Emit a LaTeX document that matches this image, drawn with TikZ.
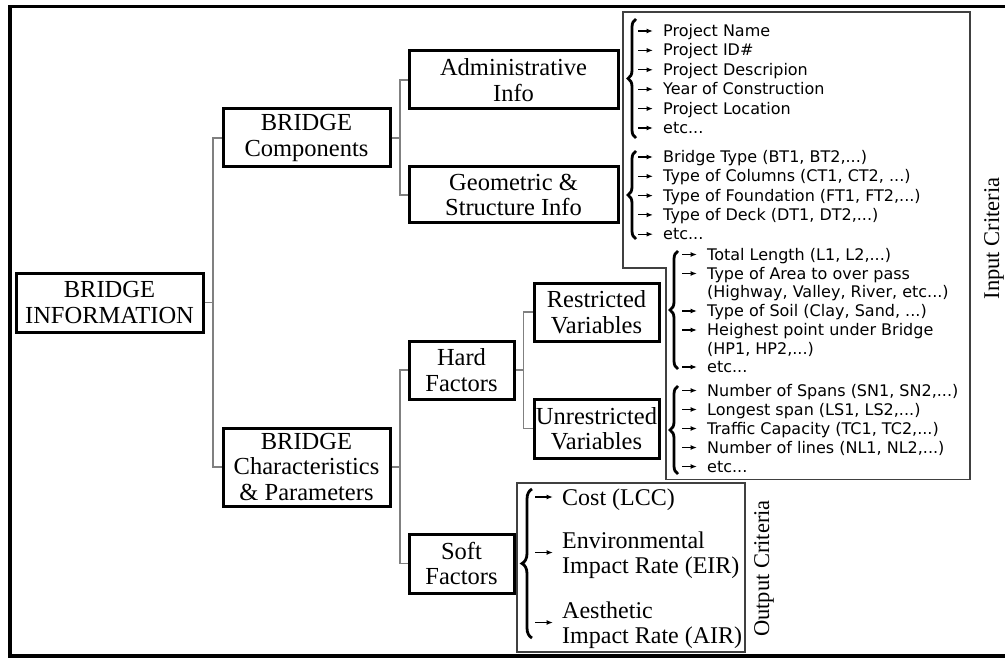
\documentclass[tikz,border=0pt]{standalone}
\usepackage{fontspec}
\setmainfont{Liberation Serif}
\newfontfamily\listfont{DejaVu Sans}
\usetikzlibrary{decorations.pathreplacing,arrows.meta}
\newcommand\itemarr[1]{\draw[arr] ([xshift=-25pt,yshift=5.5pt]#1.base west) -- ([xshift=-10pt,yshift=5.5pt]#1.base west);}
\begin{document}
\begin{tikzpicture}[x=1pt,y=-1pt,
  box/.style={draw=black, line width=3pt, inner sep=0pt, align=center, font=\fontsize{24.5}{25.5}\selectfont},
  conn/.style={draw=black!50, line width=1.3pt},
  frame/.style={draw=black!75, line width=1.4pt},
  itm/.style={anchor=base west, inner sep=0pt, font=\listfont\fontsize{16}{19}\selectfont},
  arr/.style={-{Latex[length=6.5pt,width=5pt]}, line width=1.2pt},
  brc/.style={decorate, decoration={brace, amplitude=8pt}, line width=2.8pt},
  crit/.style={rotate=90, inner sep=0pt, font=\fontsize{22.5}{24}\selectfont},
  outt/.style={anchor=base west, inner sep=0pt, font=\fontsize{24}{25}\selectfont}
]
\useasboundingbox (0,0) rectangle (1005,658);
% outer frame
\draw[line width=3.2pt] (1012,6.7) -- (10,6.7) -- (10,656) -- (1012,656);

% boxes
\node[box, minimum width=187pt, minimum height=59pt] (info) at (109.5,302.5) {BRIDGE\\INFORMATION};
\node[box, minimum width=167pt, minimum height=58pt] (comp) at (306.5,138) {BRIDGE\\Components};
\node[box, minimum width=167pt, minimum height=78pt] (char) at (306.5,467) {BRIDGE\\Characteristics\\\& Parameters};
\node[box, minimum width=209pt, minimum height=58pt] (admin) at (513.5,80) {Administrative\\Info};
\node[box, minimum width=209pt, minimum height=56pt] (geo) at (513.5,195) {Geometric \&\\Structure Info};
\node[box, minimum width=105pt, minimum height=58pt] (hard) at (461.5,370) {Hard\\Factors};
\node[box, minimum width=105pt, minimum height=59pt] (soft) at (461.5,563.5) {Soft\\Factors};
\node[box, minimum width=125pt, minimum height=58pt] (restr) at (596.5,312) {Restricted\\Variables};
\node[box, minimum width=125pt, minimum height=59pt] (unres) at (596.5,428.5) {Unrestricted\\Variables};

% connectors
\coordinate (jA) at (213,302.5);
\coordinate (jB) at (400,138);
\coordinate (jC) at (400,467);
\coordinate (jD) at (523.5,370);
\draw[conn] (info.east) -- (jA);
\draw[conn] (comp.west) -| (jA);
\draw[conn] (char.west) -| (jA);
\draw[conn] (comp.east) -- (jB);
\draw[conn] (admin.west) -| (jB);
\draw[conn] (geo.west) -| (jB);
\draw[conn] (char.east) -- (jC);
\draw[conn] (hard.west) -| (jC);
\draw[conn] (soft.west) -| (jC);
\draw[conn] (hard.east) -- (jD);
\draw[conn] (restr.west) -| (jD);
\draw[conn] (unres.west) -| (jD);

% input box outline
\draw[frame] (623,12) -- (970,12) -- (970,479.5) -- (666,479.5) -- (666,268) -- (623,268) -- cycle;
% output box outline
\draw[frame] (517,483) rectangle (745,652);

% block 1
\node[itm] (a1) at (663,36.5) {Project Name};
\node[itm] (a2) at (663,55.9) {Project ID\#};
\node[itm] (a3) at (663,75.3) {Project Descripion};
\node[itm] (a4) at (663,94.7) {Year of Construction};
\node[itm] (a5) at (663,114.1) {Project Location};
\node[itm] (a6) at (663,133.5) {etc...};
\foreach \n in {a1,a2,a3,a4,a5,a6} {\itemarr{\n}}
\draw[brc] (636,138) -- (636,19);

% block 2
\node[itm] (b1) at (663,162.5) {Bridge Type (BT1, BT2,...)};
\node[itm] (b2) at (663,181.8) {Type of Columns (CT1, CT2, ...)};
\node[itm] (b3) at (663,201.1) {Type of Foundation (FT1, FT2,...)};
\node[itm] (b4) at (663,220.4) {Type of Deck (DT1, DT2,...)};
\node[itm] (b5) at (663,239.7) {etc...};
\foreach \n in {b1,b2,b3,b4,b5} {\itemarr{\n}}
\draw[brc] (636,239) -- (636,151);

% block 3
\node[itm] (c1) at (707,260) {Total Length (L1, L2,...)};
\node[itm] (c2) at (707,279) {Type of Area to over pass};
\node[itm] (c3) at (707,297.5) {(Highway, Valley, River, etc...)};
\node[itm] (c4) at (707,316.5) {Type of Soil (Clay, Sand, ...)};
\node[itm] (c5) at (707,335.5) {Heighest point under Bridge};
\node[itm] (c6) at (707,354) {(HP1, HP2,...)};
\node[itm] (c7) at (707,372.5) {etc...};
\foreach \n in {c1,c2,c4,c5,c7} {\itemarr{\n}}
\draw[brc] (678,369) -- (678,251);

% block 4
\node[itm] (d1) at (707,396) {Number of Spans (SN1, SN2,...)};
\node[itm] (d2) at (707,415) {Longest span (LS1, LS2,...)};
\node[itm] (d3) at (707,434) {Traffic Capacity (TC1, TC2,...)};
\node[itm] (d4) at (707,453) {Number of lines (NL1, NL2,...)};
\node[itm] (d5) at (707,472) {etc...};
\foreach \n in {d1,d2,d3,d4,d5} {\itemarr{\n}}
\draw[brc] (678,474) -- (678,386);

% output items
\node[outt] (o1) at (562,505) {Cost (LCC)};
\node[outt] (o2) at (562,548) {Environmental};
\node[outt] (o3) at (562,573) {Impact Rate (EIR)};
\node[outt] (o4) at (562,618) {Aesthetic};
\node[outt] (o5) at (562,643) {Impact Rate (AIR)};
\draw[arr] ([xshift=-27pt,yshift=8pt]o1.base west) -- ([xshift=-9pt,yshift=8pt]o1.base west);
\draw[arr] ([xshift=-27pt,yshift=-4.5pt]o2.base west) -- ([xshift=-9pt,yshift=-4.5pt]o2.base west);
\draw[arr] ([xshift=-27pt,yshift=-4.5pt]o4.base west) -- ([xshift=-9pt,yshift=-4.5pt]o4.base west);
\draw[brc, decoration={amplitude=10pt}] (532,638) -- (532,489);

% criteria labels
\node[crit] (inc) at (994,238.5) {Input Criteria};
\node[crit] (outc) at (764,568.5) {Output Criteria};
\end{tikzpicture}
\end{document}
